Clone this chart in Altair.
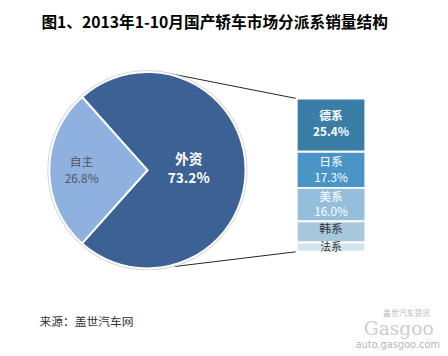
import math
import altair as alt
import pandas as pd

# ---- data ----
title_text = "图1、2013年1-10月国产轿车市场分派系销量结构"
source_text = "来源：盖世汽车网"
pie_names = ["外资", "自主"]
pie_values = [73.2, 26.8]
bar_names = ["德系", "日系", "美系", "韩系", "法系"]
bar_values = [25.4, 17.3, 16.0, 10.1, 4.4]

# ---- layout / style ----
W, H = 440, 348
CX, CY, R = 142, 162, 100
BX0, BX1, BY0, BY1 = 294, 364, 89, 245
FONT = "Noto Sans CJK SC"
pie_colors = ["#3b6195", "#8eb1df"]
bar_colors = ["#3a7ea8", "#4a94c8", "#94bedc", "#a7c7dc", "#d3e6ef"]

pie_df = pd.DataFrame({"name": pie_names, "value": pie_values,
                       "ord": list(range(len(pie_names)))})
pie_df["pct"] = [f"{v:.1f}%" for v in pie_values]
bar_df = pd.DataFrame({"name": bar_names, "value": bar_values,
                       "ord": list(range(len(bar_names)))})
bar_df["pct"] = [f"{v:.1f}%" for v in bar_values]

# theta range so that the 自主 slice is centred on the left (270 deg)
half = math.pi * pie_values[1] / sum(pie_values)
start = 1.5 * math.pi + half - 2 * math.pi
theta_scale = alt.Scale(range=[start, start + 2 * math.pi])

color_scale = alt.Scale(domain=pie_names + bar_names, range=pie_colors + bar_colors)

pie_base = alt.Chart(pie_df).encode(
    theta=alt.Theta("value:Q", stack=True, scale=theta_scale),
    order=alt.Order("ord:Q"),
    x=alt.value(CX),
    y=alt.value(CY),
)

pie_ring = alt.Chart(alt.Data(values=[{}])).mark_arc(
    outerRadius=R + 2, color="#d6d6d6"
).encode(theta=alt.value(0), theta2=alt.value(2 * math.pi), x=alt.value(CX), y=alt.value(CY))

pie = pie_base.mark_arc(outerRadius=R, stroke="white", strokeWidth=2).encode(
    color=alt.Color("name:N", scale=color_scale, legend=None)
)

big = pie_names[0]
pie_lab_big_name = pie_base.transform_calculate(
    t=f"datum.name == '{big}' ? datum.name : ''"
).mark_text(radius=42, dy=-10, font=FONT, fontSize=14, fontWeight="bold", color="white").encode(text="t:N")
pie_lab_big_pct = pie_base.transform_calculate(
    t=f"datum.name == '{big}' ? datum.pct : ''"
).mark_text(radius=42, dy=9, font=FONT, fontSize=14, fontWeight="bold", color="white").encode(text="t:N")
pie_lab_small_name = pie_base.transform_calculate(
    t=f"datum.name != '{big}' ? datum.name : ''"
).mark_text(radius=67, dy=-8, font=FONT, fontSize=12, color="#555555").encode(text="t:N")
pie_lab_small_pct = pie_base.transform_calculate(
    t=f"datum.name != '{big}' ? datum.pct : ''"
).mark_text(radius=67, dy=9, font=FONT, fontSize=12, color="#555555").encode(text="t:N")

# connectors from pie edge to the bar box
a_top, a_bot = math.radians(12), math.radians(164)
p_top = (CX + (R + 1) * math.sin(a_top), CY - (R + 1) * math.cos(a_top))
p_bot = (CX + (R + 2) * math.sin(a_bot), CY - (R + 2) * math.cos(a_bot))
one = alt.Data(values=[{}])
conn_top = alt.Chart(one).mark_rule(color="#222222", strokeWidth=1).encode(
    x=alt.value(p_top[0]), y=alt.value(p_top[1]), x2=alt.value(BX0), y2=alt.value(BY0))
conn_bot = alt.Chart(one).mark_rule(color="#222222", strokeWidth=1).encode(
    x=alt.value(p_bot[0]), y=alt.value(p_bot[1]), x2=alt.value(BX0), y2=alt.value(BY1))

y_scale = alt.Scale(domain=[0, sum(bar_values)], range=[BY0, BY1], nice=False, zero=False)
bar_base = alt.Chart(bar_df).transform_window(
    cum="sum(value)", sort=[alt.SortField("ord")], frame=[None, 0]
).transform_calculate(
    y0="datum.cum - datum.value", mid="datum.cum - datum.value / 2"
)
bars = bar_base.mark_bar(stroke="white", strokeWidth=2).encode(
    x=alt.value(BX0), x2=alt.value(BX1),
    y=alt.Y("y0:Q", scale=y_scale, axis=None), y2="cum:Q",
    color=alt.Color("name:N", scale=color_scale, legend=None),
)
XM = (BX0 + BX1) / 2


def blabel(names, field, dy, color, weight="normal", size=12):
    cond = " || ".join([f"datum.name == '{n}'" for n in names])
    return bar_base.transform_filter(cond).mark_text(
        dy=dy, font=FONT, fontSize=size, fontWeight=weight, color=color
    ).encode(x=alt.value(XM), y=alt.Y("mid:Q", scale=y_scale, axis=None), text=f"{field}:N")


bar_labels = [
    blabel(bar_names[:1], "name", -9, "white", "bold"),
    blabel(bar_names[:1], "pct", 7, "white", "bold"),
    blabel(bar_names[1:3], "name", -8, "white"),
    blabel(bar_names[1:3], "pct", 8, "white"),
    blabel(bar_names[3:4], "name", -3, "#333333"),
    blabel(bar_names[4:], "name", 1, "#333333", size=11),
]


def note(text, x, y, size, color, weight="normal", align="left", font=FONT):
    return alt.Chart(alt.Data(values=[{"t": text}])).mark_text(
        font=font, fontSize=size, fontWeight=weight, color=color, align=align, baseline="middle"
    ).encode(x=alt.value(x), y=alt.value(y), text="t:N")


texts = [
    note(title_text, 34, 12, 16, "#000000", "bold"),
    note(source_text, 32, 317, 12, "#333333"),
    note("盖世汽车资讯", 406, 308, 8, "#b8b8b8", align="center"),
    note("Gasgoo", 398, 324, 19, "#cccccc", align="center", font="DejaVu Serif"),
    note("auto.gasgoo.com", 397, 340, 10, "#b5b5b5", align="center", font="DejaVu Sans"),
]

chart = alt.layer(
    conn_top, conn_bot, pie_ring, pie,
    pie_lab_big_name, pie_lab_big_pct, pie_lab_small_name, pie_lab_small_pct,
    bars, *bar_labels, *texts,
).properties(
    width=W, height=H, padding=0, autosize=alt.AutoSizeParams(type="none"), background="white"
).configure_view(stroke=None)

chart.save("out.html", embed_options={"renderer": "svg", "actions": False})
